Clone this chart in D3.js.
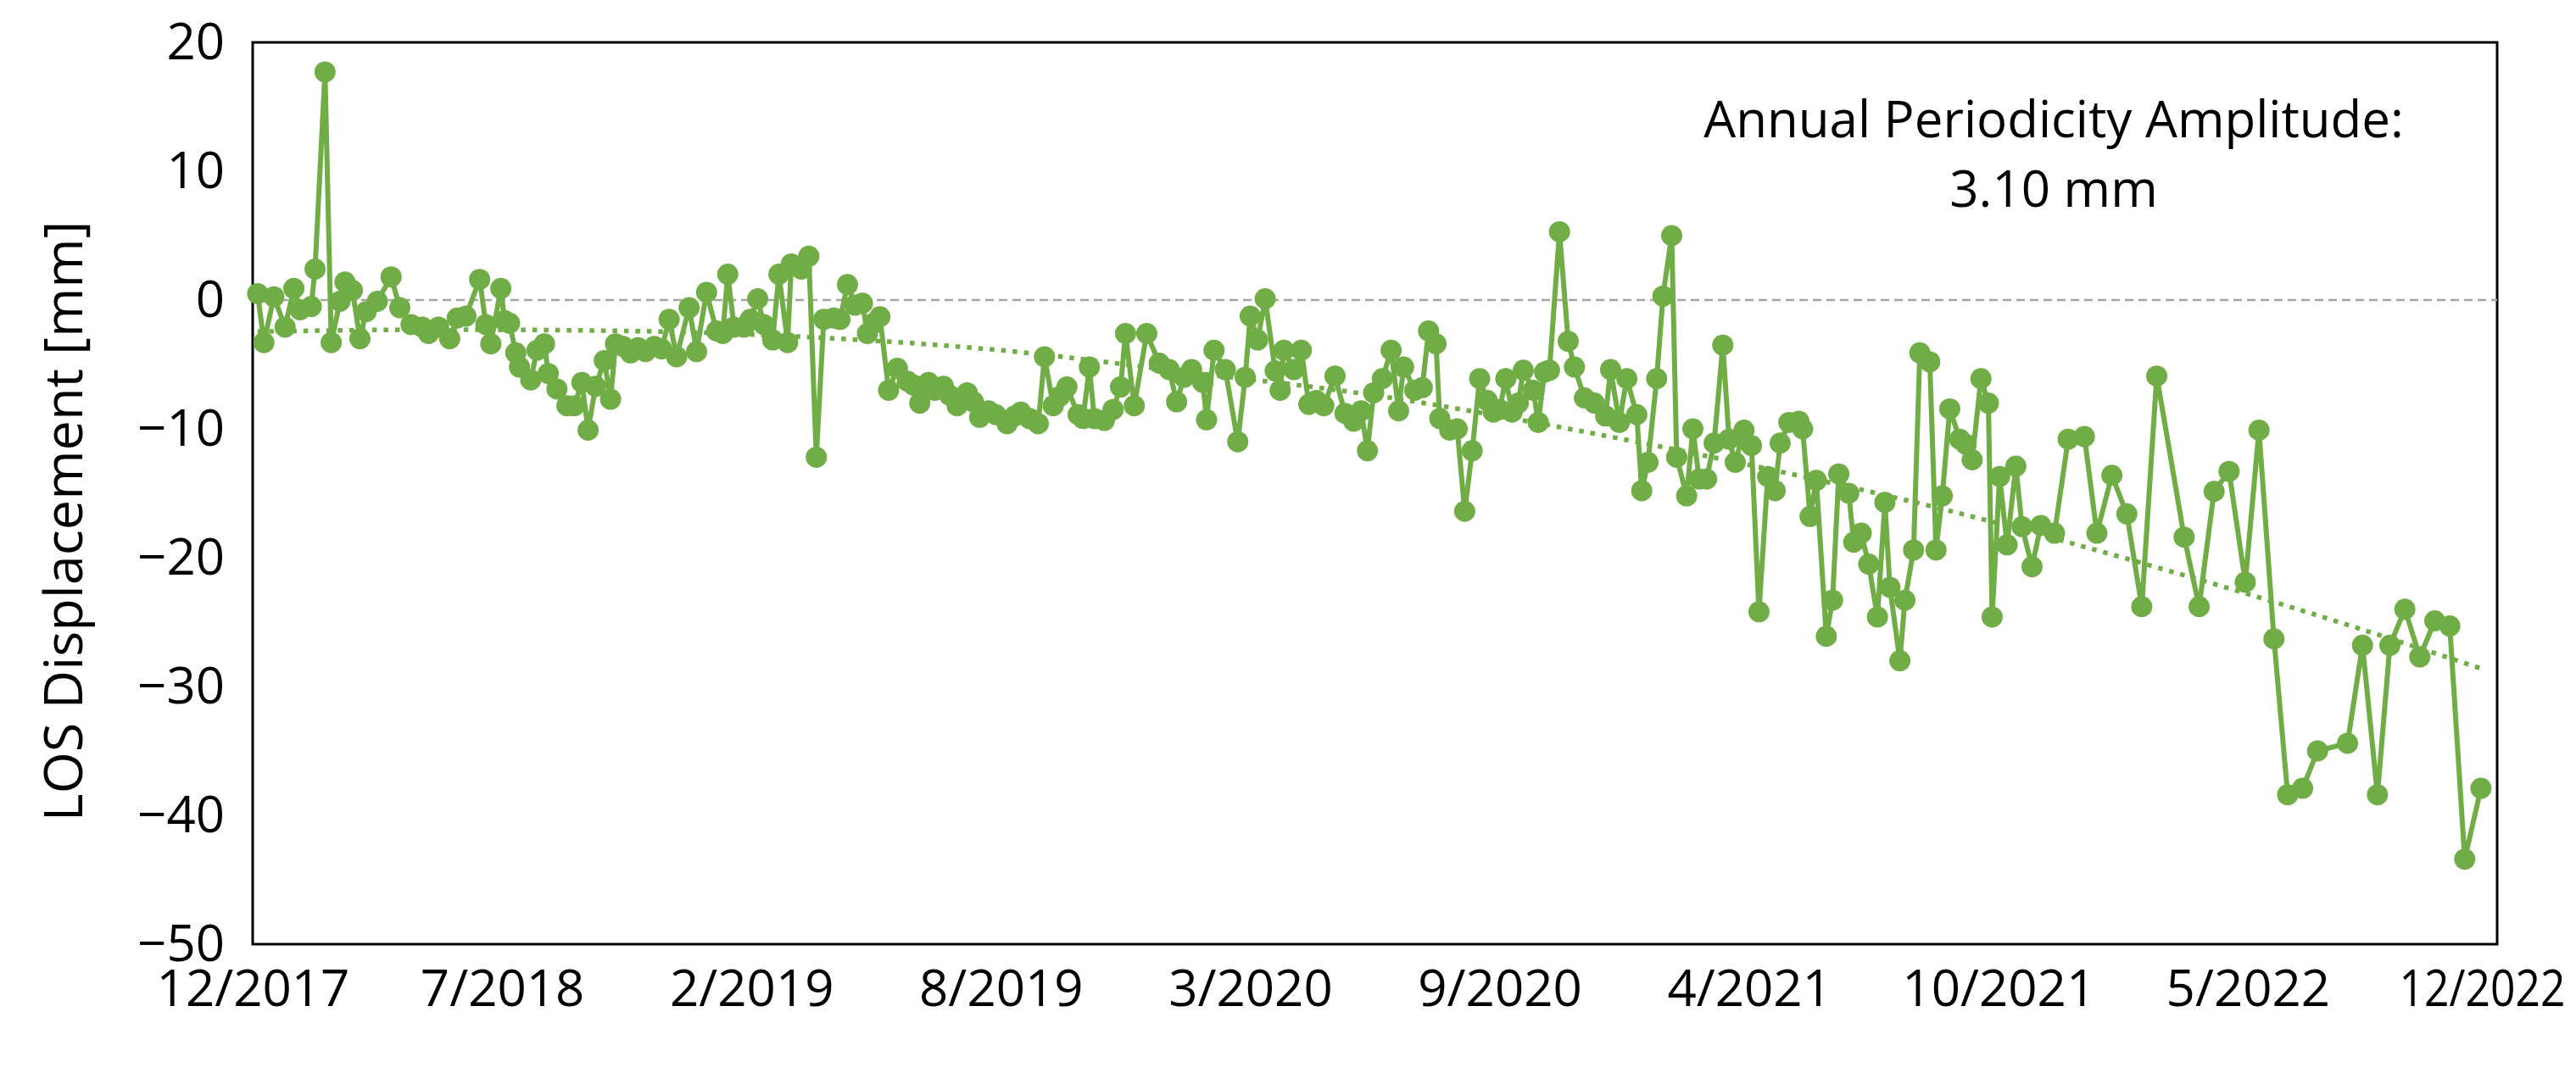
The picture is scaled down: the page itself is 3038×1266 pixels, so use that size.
<!DOCTYPE html>
<html><head><meta charset="utf-8">
<script src="https://cdn.jsdelivr.net/npm/d3@7"></script>
<style>
html,body{margin:0;padding:0;background:#fff;}
svg{display:block;}
text{font-family:"Open Sans",sans-serif;fill:#000;}
</style></head><body>
<svg id="chart" width="3038" height="1266"></svg>
<script>
// ---- data ----
const dates = [
"2018-01-02","2018-01-07","2018-01-15","2018-01-24","2018-01-31","2018-02-05","2018-02-14","2018-02-17","2018-02-25","2018-03-02",
"2018-03-09","2018-03-13","2018-03-19","2018-03-25","2018-03-30","2018-04-08","2018-04-19","2018-04-26","2018-05-05","2018-05-14",
"2018-05-19","2018-05-27","2018-06-05","2018-06-11","2018-06-18","2018-06-29","2018-07-04","2018-07-08","2018-07-16","2018-07-19",
"2018-07-23","2018-07-28","2018-07-31","2018-08-09","2018-08-14","2018-08-20","2018-08-23","2018-08-30","2018-09-07","2018-09-13",
"2018-09-19","2018-09-24","2018-09-30","2018-10-07","2018-10-12","2018-10-16","2018-10-22","2018-10-28","2018-11-03","2018-11-09",
"2018-11-16","2018-11-22","2018-11-28","2018-12-04","2018-12-14","2018-12-20","2018-12-28","2019-01-05","2019-01-10","2019-01-14",
"2019-01-19","2019-01-27","2019-02-01","2019-02-07","2019-02-12","2019-02-19","2019-02-24","2019-03-03","2019-03-06","2019-03-14",
"2019-03-20","2019-03-26","2019-04-01","2019-04-09","2019-04-14","2019-04-20","2019-04-26","2019-05-02","2019-05-06","2019-05-11",
"2019-05-16","2019-05-23","2019-05-30","2019-06-07","2019-06-12","2019-06-17","2019-06-24","2019-06-29","2019-07-06","2019-07-11",
"2019-07-17","2019-07-25","2019-07-30","2019-08-04","2019-08-11","2019-08-17","2019-08-26","2019-09-01","2019-09-06","2019-09-13",
"2019-09-20","2019-09-25","2019-10-02","2019-10-07","2019-10-13","2019-10-22","2019-10-26","2019-10-31","2019-11-04","2019-11-12",
"2019-11-19","2019-11-25","2019-11-29","2019-12-06","2019-12-16","2019-12-26","2020-01-03","2020-01-09","2020-01-15","2020-01-21",
"2020-01-30","2020-02-02","2020-02-08","2020-02-17","2020-02-27","2020-03-04","2020-03-08","2020-03-14","2020-03-20","2020-03-28",
"2020-04-01","2020-04-04","2020-04-12","2020-04-18","2020-04-24","2020-04-30","2020-05-06","2020-05-15","2020-05-23","2020-05-30",
"2020-06-05","2020-06-10","2020-06-15","2020-06-22","2020-06-29","2020-07-05","2020-07-09","2020-07-18","2020-07-24","2020-07-29",
"2020-08-04","2020-08-07","2020-08-15","2020-08-21","2020-08-27","2020-09-02","2020-09-08","2020-09-14","2020-09-19","2020-09-24",
"2020-09-29","2020-10-04","2020-10-09","2020-10-13","2020-10-21","2020-10-25","2020-10-30","2020-11-03","2020-11-11","2020-11-18",
"2020-11-23","2020-12-01","2020-12-09","2020-12-18","2020-12-22","2020-12-29","2021-01-04","2021-01-12","2021-01-16","2021-01-21",
"2021-01-28","2021-02-02","2021-02-09","2021-02-13","2021-02-21","2021-02-26","2021-03-03","2021-03-09","2021-03-15","2021-03-22",
"2021-03-27","2021-04-01","2021-04-08","2021-04-14","2021-04-20","2021-04-27","2021-05-03","2021-05-07","2021-05-14","2021-05-22",
"2021-05-25","2021-05-31","2021-06-05","2021-06-13","2021-06-18","2021-06-23","2021-07-01","2021-07-05","2021-07-11","2021-07-17",
"2021-07-24","2021-07-30","2021-08-03","2021-08-11","2021-08-15","2021-08-22","2021-08-27","2021-09-04","2021-09-09","2021-09-14",
"2021-09-20","2021-09-28","2021-10-03","2021-10-08","2021-10-15","2021-10-21","2021-10-24","2021-10-30","2021-11-05","2021-11-12",
"2021-11-17","2021-11-25","2021-12-02","2021-12-13","2021-12-24","2022-01-06","2022-01-16","2022-01-28","2022-02-09","2022-02-21",
"2022-03-05","2022-03-27","2022-04-08","2022-04-20","2022-05-02","2022-05-15","2022-05-26","2022-06-07","2022-06-18","2022-06-30",
"2022-07-12","2022-08-05","2022-08-17","2022-08-29","2022-09-08","2022-09-20","2022-10-02","2022-10-14","2022-10-26","2022-11-07",
"2022-11-20"
];
const displacement = [
0.5,-3.3,0.25,-2.1,0.9,-0.75,-0.5,2.4,17.7,-3.3,
-0.1,1.4,0.75,-3.0,-0.9,-0.1,1.8,-0.6,-1.9,-2.1,
-2.6,-2.1,-3.0,-1.4,-1.25,1.6,-1.9,-3.4,0.9,-1.6,
-1.8,-4.1,-5.2,-6.2,-3.9,-3.4,-5.7,-6.9,-8.2,-8.2,
-6.4,-10.1,-6.7,-4.7,-7.7,-3.4,-3.6,-4.1,-3.7,-4.0,
-3.6,-3.8,-1.5,-4.4,-0.6,-4.0,0.6,-2.4,-2.6,2.0,
-2.1,-2.1,-1.5,0.1,-1.9,-3.1,2.0,-3.3,2.8,2.4,
3.4,-12.2,-1.5,-1.4,-1.5,1.2,-0.4,-0.25,-2.6,-1.8,
-1.3,-7.0,-5.3,-6.3,-6.6,-8.0,-6.4,-7.0,-6.7,-7.4,
-8.2,-7.2,-7.9,-9.1,-8.6,-8.9,-9.6,-9.0,-8.7,-9.2,
-9.6,-4.4,-8.2,-7.5,-6.75,-8.9,-9.2,-5.2,-9.2,-9.35,
-8.5,-6.75,-2.6,-8.2,-2.6,-4.9,-5.4,-7.9,-6.0,-5.4,
-6.4,-9.3,-3.9,-5.4,-11.0,-6.0,-1.25,-3.1,0.1,-5.5,
-7.0,-3.9,-5.4,-3.9,-8.1,-7.8,-8.2,-5.9,-8.8,-9.4,
-8.6,-11.7,-7.2,-6.1,-3.9,-8.6,-5.2,-7.0,-6.8,-2.4,
-3.4,-9.2,-10.1,-10.0,-16.4,-11.7,-6.1,-7.8,-8.7,-8.5,
-6.1,-8.7,-8.0,-5.45,-7.0,-9.5,-5.6,-5.45,5.3,-3.2,
-5.2,-7.6,-8.0,-9.0,-5.4,-9.5,-6.1,-8.9,-14.8,-12.6,
-6.1,0.3,5.0,-12.2,-15.2,-10.0,-13.9,-13.9,-11.1,-3.5,
-10.8,-12.6,-10.1,-11.3,-24.2,-13.7,-14.8,-11.1,-9.5,-9.4,
-10.0,-16.8,-14.0,-26.1,-23.3,-13.5,-15.0,-18.8,-18.1,-20.5,
-24.6,-15.7,-22.3,-28.0,-23.3,-19.4,-4.1,-4.8,-19.4,-15.2,
-8.45,-10.8,-11.2,-12.4,-6.1,-8.0,-24.6,-13.7,-19.0,-12.9,
-17.6,-20.7,-17.5,-18.1,-10.8,-10.6,-18.1,-13.6,-16.6,-23.8,
-5.9,-18.4,-23.8,-14.85,-13.3,-21.9,-10.1,-26.3,-38.4,-37.9,
-35.0,-34.4,-26.8,-38.4,-26.8,-24.0,-27.7,-24.9,-25.3,-43.4,
-37.9
];
// dotted trend line
const trendDates = ["2018-01-02","2018-05-28","2018-10-25","2019-03-24","2019-08-21","2020-01-18","2020-06-16","2020-11-13","2021-04-12","2021-09-09","2022-02-06","2022-07-06","2022-11-20"];
const trendValues = [-2.45,-2.3,-2.4,-2.9,-3.9,-5.6,-7.4,-9.9,-12.8,-16.1,-20.0,-24.3,-28.6];
// axes
const xTickDates = ["2017-12-29","2018-07-17","2019-02-02","2019-08-21","2020-03-08","2020-09-24","2021-04-12","2021-10-29","2022-05-17","2022-12-03"];
const xTickLabels = ["12/2017","7/2018","2/2019","8/2019","3/2020","9/2020","4/2021","10/2021","5/2022","12/2022"];
const yTicks = [-50,-40,-30,-20,-10,0,10,20];
const yTitle = "LOS Displacement [mm]";
const noteLines = ["Annual Periodicity Amplitude:", "3.10 mm"];

// ---- drawing ----
const W = 3038, H = 1266;
const M = {left: 298, top: 50, right: 93, bottom: 152};
const green = "#70AD47";
const parse = d3.utcParse("%Y-%m-%d");
const svg = d3.select("#chart");

const x = d3.scaleUtc()
  .domain([parse(xTickDates[0]), parse(xTickDates[xTickDates.length - 1])])
  .range([M.left, W - M.right]);
const y = d3.scaleLinear().domain([-50, 20]).range([H - M.bottom, M.top]);

const pts = dates.map((d, i) => ({date: parse(d), v: displacement[i]}));
const trend = trendDates.map((d, i) => ({date: parse(d), v: trendValues[i]}));

// plot border
svg.append("rect")
  .attr("x", M.left).attr("y", M.top)
  .attr("width", W - M.left - M.right).attr("height", H - M.top - M.bottom)
  .attr("fill", "none").attr("stroke", "#000").attr("stroke-width", 3);

// axes
const xAxis = svg.append("g")
  .attr("transform", `translate(0,${H - M.bottom})`)
  .call(d3.axisBottom(x)
    .tickValues(xTickDates.map(parse))
    .tickFormat((d, i) => xTickLabels[i])
    .tickSize(0).tickPadding(30));
xAxis.select(".domain").remove();
xAxis.selectAll("text").attr("font-size", 60).attr("font-family", "Open Sans");
// the last label is squeezed to stay inside the picture, as in the reference
xAxis.selectAll(".tick").filter((d, i) => i === xTickDates.length - 1).select("text")
  .attr("transform", "translate(-18,0) scale(0.86,1)");

const yAxis = svg.append("g")
  .attr("transform", `translate(${M.left},0)`)
  .call(d3.axisLeft(y).tickValues(yTicks).tickSize(0).tickPadding(33));
yAxis.select(".domain").remove();
yAxis.selectAll("text").attr("font-size", 60).attr("font-family", "Open Sans");

// y title
svg.append("text")
  .attr("transform", `translate(97,${(M.top + H - M.bottom) / 2 + 33}) rotate(-90)`)
  .attr("text-anchor", "middle")
  .attr("font-size", 63)
  .text(yTitle);

// zero reference line
svg.append("line")
  .attr("x1", M.left).attr("x2", W - M.right)
  .attr("y1", y(0)).attr("y2", y(0))
  .attr("stroke", "#A5A5A5").attr("stroke-width", 2.5)
  .attr("stroke-dasharray", "10,6");

// trend (dotted)
svg.append("path")
  .datum(trend)
  .attr("fill", "none").attr("stroke", green)
  .attr("stroke-width", 5.5).attr("stroke-dasharray", "5.5,8")
  .attr("d", d3.line().x(d => x(d.date)).y(d => y(d.v)).curve(d3.curveMonotoneX));

// series line
svg.append("path")
  .datum(pts)
  .attr("fill", "none").attr("stroke", green)
  .attr("stroke-width", 6).attr("stroke-linejoin", "round")
  .attr("d", d3.line().x(d => x(d.date)).y(d => y(d.v)));

// markers
svg.append("g").selectAll("circle").data(pts).join("circle")
  .attr("cx", d => x(d.date)).attr("cy", d => y(d.v))
  .attr("r", 12.5).attr("fill", green);

// annotation
const note = svg.append("text").attr("text-anchor", "middle").attr("font-size", 60);
note.selectAll("tspan").data(noteLines).join("tspan")
  .attr("x", 2422).attr("y", (d, i) => 162 + i * 82)
  .text(d => d);
</script>
</body></html>
